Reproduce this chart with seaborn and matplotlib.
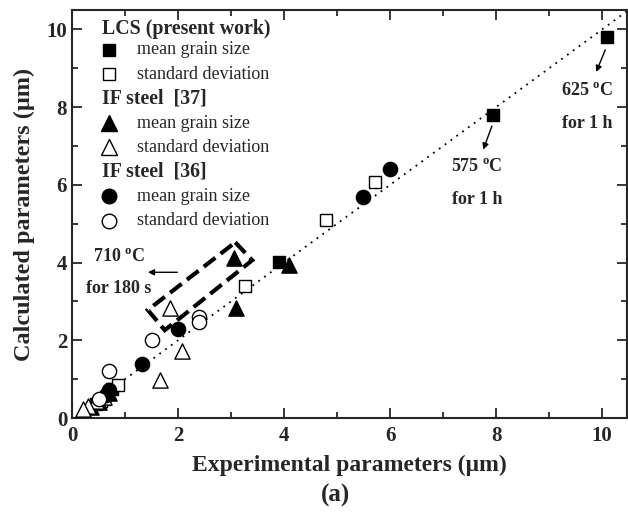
import matplotlib
matplotlib.use("Agg")
import matplotlib.pyplot as plt
from matplotlib.patches import Polygon
from matplotlib.ticker import MultipleLocator
import seaborn as sns
import pandas as pd

# Experimental vs calculated grain-size parameters (um)
lcs_mean_x = [10.1, 7.94, 3.9, 0.75, 0.6, 0.45]
lcs_mean_y = [9.8, 7.8, 4.02, 0.75, 0.5, 0.35]
lcs_std_x = [5.72, 4.8, 3.26, 0.86, 0.55]
lcs_std_y = [6.08, 5.1, 3.4, 0.84, 0.45]

if37_mean_x = [3.05, 4.1, 3.1, 0.7, 0.5, 0.35]
if37_mean_y = [4.12, 3.95, 2.83, 0.65, 0.42, 0.28]
if37_std_x = [1.85, 2.08, 1.66, 0.6, 0.45, 0.3, 0.2]
if37_std_y = [2.82, 1.72, 0.97, 0.55, 0.45, 0.3, 0.22]

if36_mean_x = [6.0, 5.49, 2.0, 1.32, 0.7, 0.65]
if36_mean_y = [6.4, 5.7, 2.3, 1.4, 0.72, 0.6]
if36_std_x = [2.4, 2.4, 1.51, 0.7, 0.5]
if36_std_y = [2.6, 2.48, 2.0, 1.2, 0.5]

x_ticks = [0, 2, 4, 6, 8, 10]
y_ticks = [0, 2, 4, 6, 8, 10]

sns.set_style("ticks")
plt.rcParams["font.family"] = ["Liberation Serif", "DejaVu Serif"]
plt.rcParams["font.weight"] = "bold"
plt.rcParams["mathtext.fontset"] = "custom"
plt.rcParams["mathtext.rm"] = "Liberation Serif:bold"
plt.rcParams["mathtext.bf"] = "Liberation Serif:bold"

fig = plt.figure(figsize=(6.28, 5.14), dpi=100)
ax = fig.add_axes([72 / 628, 1 - 418 / 514, 555 / 628, 408 / 514])

series = [
    (lcs_mean_x, lcs_mean_y, "s", "black", 75),
    (lcs_std_x, lcs_std_y, "s", "white", 75),
    (if37_mean_x, if37_mean_y, "^", "black", 120),
    (if37_std_x, if37_std_y, "^", "white", 120),
    (if36_mean_x, if36_mean_y, "o", "black", 105),
    (if36_std_x, if36_std_y, "o", "white", 105),
]
for xs, ys, mk, fc, size in series:
    df = pd.DataFrame({"x": xs, "y": ys})
    sns.scatterplot(data=df, x="x", y="y", marker=mk, color=fc, edgecolor="black",
                    linewidth=1.0, s=size, ax=ax, zorder=3, legend=False)

# y = x reference line
sns.lineplot(x=[0, 10.6], y=[0, 10.6], ax=ax, color="black", lw=1.3,
             linestyle=(0, (1, 3)), zorder=2)

ax.set_xlim(0, 10.47)
ax.set_ylim(0, 10.5)
ax.set_xticks(x_ticks)
ax.set_yticks(y_ticks)
ax.xaxis.set_minor_locator(MultipleLocator(1))
ax.yaxis.set_minor_locator(MultipleLocator(1))
ax.tick_params(which="both", direction="in", top=True, right=True, width=1.3)
ax.tick_params(which="major", length=7, labelsize=15)
ax.tick_params(which="minor", length=4)
ax.tick_params(axis="x", pad=6)
for sp in ax.spines.values():
    sp.set_linewidth(1.5)
for lbl in ax.get_xticklabels() + ax.get_yticklabels():
    lbl.set_fontweight("bold")

ax.set_xlabel("Experimental parameters (μm)", fontsize=17, fontweight="bold", labelpad=6)
ax.set_ylabel("Calculated parameters (μm)", fontsize=17.5, fontweight="bold", labelpad=8)
fig.text(0.535, 1 - 495 / 514, "(a)", fontsize=18, fontweight="bold", ha="center", va="center")

# Grouped key
rows = [0.953, 0.902, 0.843, 0.784, 0.723, 0.664, 0.605, 0.544, 0.483]
headers = ["LCS (present work)", "IF steel  [37]", "IF steel  [36]"]
key_marks = [("s", "black", 9), ("s", "white", 9), ("^", "black", 11),
             ("^", "white", 11), ("o", "black", 10.5), ("o", "white", 10.5)]
entry_labels = ["mean grain size", "standard deviation"]
for g in range(3):
    ax.text(0.054, rows[3 * g], headers[g], transform=ax.transAxes, fontsize=14.3,
            fontweight="bold", va="center", ha="left")
    for k in range(2):
        mk, fc, ms = key_marks[2 * g + k]
        ry = rows[3 * g + 1 + k]
        ax.plot([0.067], [ry], marker=mk, mfc=fc, mec="black", ms=ms, mew=1.0,
                transform=ax.transAxes, linestyle="none", clip_on=False)
        ax.text(0.117, ry, entry_labels[k], transform=ax.transAxes, fontsize=13,
                fontweight="normal", va="center", ha="left")

# Highlight box for the 710 C / 180 s group
box = Polygon([(3.08, 4.52), (3.40, 4.06), (1.75, 2.26), (1.43, 2.78)], closed=True,
              fill=False, edgecolor="black", lw=3.0, linestyle=(0, (3.5, 1.6)), zorder=4)
ax.add_patch(box)

ann_kw = dict(fontsize=13, fontweight="bold", ha="center", va="center")
ax.text(0.89, 4.14, r"710 $^{\rm o}$C", **ann_kw)
ax.text(0.89, 3.34, "for 180 s", **ann_kw)
ax.annotate("", xy=(1.38, 3.75), xytext=(2.04, 3.75),
            arrowprops=dict(arrowstyle="-|>", color="black", lw=1.0, mutation_scale=9))

ax.text(7.64, 6.45, r"575 $^{\rm o}$C", **ann_kw)
ax.text(7.64, 5.63, "for 1 h", **ann_kw)
ax.annotate("", xy=(7.74, 6.84), xytext=(7.94, 7.58),
            arrowprops=dict(arrowstyle="-|>", color="black", lw=1.0, mutation_scale=9))

ax.text(9.72, 8.41, r"625 $^{\rm o}$C", **ann_kw)
ax.text(9.72, 7.58, "for 1 h", **ann_kw)
ax.annotate("", xy=(9.87, 8.84), xytext=(10.08, 9.54),
            arrowprops=dict(arrowstyle="-|>", color="black", lw=1.0, mutation_scale=9))

fig.savefig("out.png", dpi=100)
